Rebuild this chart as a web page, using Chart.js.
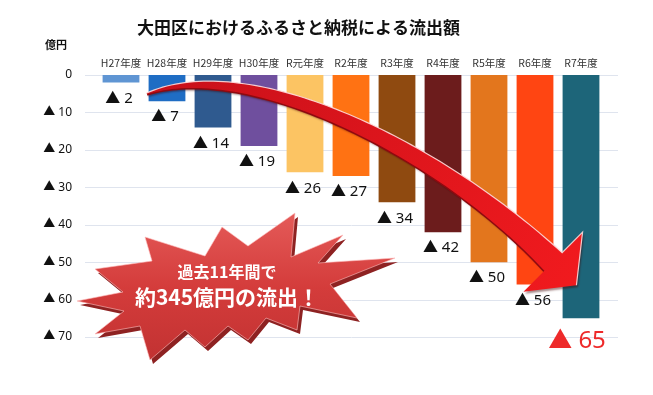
<!DOCTYPE html>
<html lang="ja">
<head>
<meta charset="utf-8">
<script src="https://cdn.jsdelivr.net/npm/chart.js@4.4.1/dist/chart.umd.min.js"></script>
<style>
  html, body { margin: 0; padding: 0; background: #fff; }
  #wrap { width: 653px; height: 395px; position: relative; }
</style>
</head>
<body>
<div id="wrap"><canvas id="chart"></canvas></div>
<script>
// データ
const years = ['H27年度', 'H28年度', 'H29年度', 'H30年度', 'R元年度', 'R2年度', 'R3年度', 'R4年度', 'R5年度', 'R6年度', 'R7年度'];
const outflow = [2, 7, 14, 19, 26, 27, 34, 42, 50, 56, 65]; // 億円
const barColors = ['#5f95d3', '#1f6dc4', '#2f5a8f', '#6f4f9e', '#fcc463', '#ff7213', '#8f4a10', '#6c1c1c', '#e3761d', '#ff4512', '#1d6579'];
const yTicks = [0, 10, 20, 30, 40, 50, 60, 70];

const chartTitle = '大田区におけるふるさと納税による流出額';
const unitLabel = '億円';
const burstLines = ['過去11年間で', '約345億円の流出！'];

const JP = '"Noto Sans CJK JP", "Noto Sans", sans-serif';

function triLabel(v) {
    return v === 0 ? '0' : '▲ ' + v;
}

// 曲線矢印の中心線 (ベジェ)
function bez(p0, p1, p2, p3, t) {
    const u = 1 - t;
    return {
        x: u*u*u*p0.x + 3*u*u*t*p1.x + 3*u*t*t*p2.x + t*t*t*p3.x,
        y: u*u*u*p0.y + 3*u*u*t*p1.y + 3*u*t*t*p2.y + t*t*t*p3.y
    };
}

function drawArrow(ctx) {
    const p0 = {x: 147, y: 94}, p1 = {x: 250, y: 55}, p2 = {x: 440, y: 150}, p3 = {x: 553, y: 262};
    const upper = [], lower = [];
    const n = 80;
    for (let i = 0; i <= n; i++) {
        const t = i / n;
        const a = bez(p0, p1, p2, p3, Math.max(0, t - 0.001));
        const b = bez(p0, p1, p2, p3, Math.min(1, t + 0.001));
        const c = bez(p0, p1, p2, p3, t);
        let dx = b.x - a.x, dy = b.y - a.y;
        const len = Math.hypot(dx, dy);
        dx /= len; dy /= len;
        const w = (2 + 14 * (1 - Math.pow(1 - t, 3)) + 10 * Math.pow(t, 4)) / 2;
        upper.push({x: c.x + dy * w, y: c.y - dx * w});
        lower.push({x: c.x - dy * w, y: c.y + dx * w});
    }
    // 矢じり
    let dx = p3.x - p2.x, dy = p3.y - p2.y;
    const len = Math.hypot(dx, dy);
    dx /= len; dy /= len;
    const hw = 42, hl = 33;
    const hA = {x: p3.x + dy * hw, y: p3.y - dx * hw};
    const hB = {x: p3.x - dy * hw, y: p3.y + dx * hw};
    const tip = {x: p3.x + dx * hl, y: p3.y + dy * hl};

    ctx.save();
    const grad = ctx.createLinearGradient(150, 80, 560, 300);
    grad.addColorStop(0, '#c8101a');
    grad.addColorStop(1, '#f01a1e');
    ctx.fillStyle = grad;
    ctx.shadowColor = 'rgba(60,0,0,0.45)';
    ctx.shadowOffsetX = 1.5;
    ctx.shadowOffsetY = 2;
    ctx.shadowBlur = 2;
    ctx.beginPath();
    ctx.moveTo(upper[0].x, upper[0].y);
    upper.forEach(p => ctx.lineTo(p.x, p.y));
    ctx.lineTo(hA.x, hA.y);
    ctx.lineTo(tip.x, tip.y);
    ctx.lineTo(hB.x, hB.y);
    for (let i = lower.length - 1; i >= 0; i--) ctx.lineTo(lower[i].x, lower[i].y);
    ctx.closePath();
    ctx.fill();
    ctx.shadowColor = 'transparent';
    // 下側の影の線
    ctx.strokeStyle = '#8e0a10';
    ctx.lineWidth = 1.5;
    ctx.beginPath();
    lower.forEach((p, i) => i ? ctx.lineTo(p.x, p.y) : ctx.moveTo(p.x, p.y));
    ctx.stroke();
    // 上側のハイライト
    ctx.strokeStyle = 'rgba(255,220,220,0.9)';
    ctx.lineWidth = 1.2;
    ctx.beginPath();
    upper.forEach((p, i) => i ? ctx.lineTo(p.x, p.y) : ctx.moveTo(p.x, p.y));
    ctx.lineTo(hA.x, hA.y);
    ctx.lineTo(tip.x, tip.y);
    ctx.stroke();
    ctx.restore();
}

function drawBurst(ctx) {
    const pts = [
        [77, 301], [123, 292], [95, 269], [152, 261], [145, 237], [205, 256], [222, 227], [248, 246],
        [295, 213], [291, 257], [343, 235], [318, 263], [395, 258], [330, 284], [357, 318], [300, 306],
        [297, 330], [266, 318], [248, 340], [228, 326], [205, 347], [185, 330], [150, 360], [140, 326],
        [95, 334], [124, 311]
    ];
    ctx.save();
    ctx.beginPath();
    pts.forEach((p, i) => i ? ctx.lineTo(p[0] + 3, p[1] + 4) : ctx.moveTo(p[0] + 3, p[1] + 4));
    ctx.closePath();
    ctx.fillStyle = '#8e2222';
    ctx.fill();
    const g = ctx.createLinearGradient(0, 215, 0, 360);
    g.addColorStop(0, '#e45a58');
    g.addColorStop(0.5, '#d43c3b');
    g.addColorStop(1, '#c23232');
    ctx.beginPath();
    pts.forEach((p, i) => i ? ctx.lineTo(p[0], p[1]) : ctx.moveTo(p[0], p[1]));
    ctx.closePath();
    ctx.fillStyle = g;
    ctx.fill();
    ctx.strokeStyle = 'rgba(255,190,190,0.6)';
    ctx.lineWidth = 1;
    ctx.stroke();

    ctx.fillStyle = '#ffffff';
    ctx.textAlign = 'center';
    ctx.textBaseline = 'middle';
    ctx.font = 'bold 16px ' + JP;
    ctx.fillText(burstLines[0], 227, 272);
    ctx.font = 'bold 21px ' + JP;
    ctx.fillText(burstLines[1], 227, 297);
    ctx.restore();
}

const decorPlugin = {
    id: 'decor',
    beforeDatasetsDraw(chart) {
        const ctx = chart.ctx;
        const y = chart.scales.y;
        const area = chart.chartArea;
        ctx.save();
        ctx.strokeStyle = '#dfe4ee';
        ctx.lineWidth = 1;
        yTicks.forEach(v => {
            const py = Math.round(y.getPixelForValue(v)) + 0.5;
            ctx.beginPath();
            ctx.moveTo(area.left - 13, py);
            ctx.lineTo(area.right + 14, py);
            ctx.stroke();
        });
        ctx.restore();
    },
    afterDatasetsDraw(chart) {
        const ctx = chart.ctx;
        const meta = chart.getDatasetMeta(0);
        ctx.save();
        ctx.textAlign = 'center';
        ctx.textBaseline = 'middle';
        meta.data.forEach((bar, i) => {
            const last = i === outflow.length - 1;
            if (last) {
                ctx.fillStyle = '#ee2a2a';
                ctx.font = '24px "Noto Sans", ' + JP;
                ctx.fillText(triLabel(outflow[i]), bar.x - 4, bar.y + 23);
            } else {
                ctx.fillStyle = '#111111';
                ctx.font = '15px "Noto Sans", ' + JP;
                ctx.fillText(triLabel(outflow[i]), bar.x - 2, bar.y + 16);
            }
        });
        ctx.restore();

        drawArrow(ctx);
        drawBurst(ctx);

        // タイトルと単位
        ctx.save();
        ctx.fillStyle = '#111111';
        ctx.textBaseline = 'middle';
        ctx.textAlign = 'left';
        ctx.font = 'bold 17px ' + JP;
        ctx.fillText(chartTitle, 137, 28);
        ctx.font = 'bold 11px ' + JP;
        ctx.fillText(unitLabel, 45, 45);
        ctx.restore();
    }
};

const ctx = document.getElementById('chart').getContext('2d');
new Chart(ctx, {
    type: 'bar',
    data: {
        labels: years,
        datasets: [{
            data: outflow,
            backgroundColor: barColors,
            borderWidth: 0,
            barPercentage: 0.8,
            categoryPercentage: 1.0
        }]
    },
    options: {
        responsive: true,
        maintainAspectRatio: false,
        animation: false,
        layout: { padding: { left: 0, right: 49, top: 0, bottom: 58 } },
        plugins: {
            legend: { display: false },
            tooltip: { enabled: false },
            title: { display: false }
        },
        scales: {
            x: {
                position: 'top',
                grid: { display: false, drawTicks: false },
                border: { display: false },
                ticks: {
                    color: '#333333',
                    font: { family: JP, size: 10.5 },
                    padding: 6,
                    maxRotation: 0,
                    autoSkip: false
                },
                afterFit(scale) { scale.height = 75; }
            },
            y: {
                reverse: true,
                min: 0,
                max: 70,
                grid: { display: false, drawTicks: false },
                border: { display: false },
                ticks: {
                    stepSize: 10,
                    color: '#111111',
                    font: { family: '"Noto Sans", ' + JP, size: 12 },
                    padding: 26,
                    callback: v => triLabel(v)
                },
                afterFit(scale) { scale.width = 98; }
            }
        }
    },
    plugins: [decorPlugin]
});
</script>
</body>
</html>
